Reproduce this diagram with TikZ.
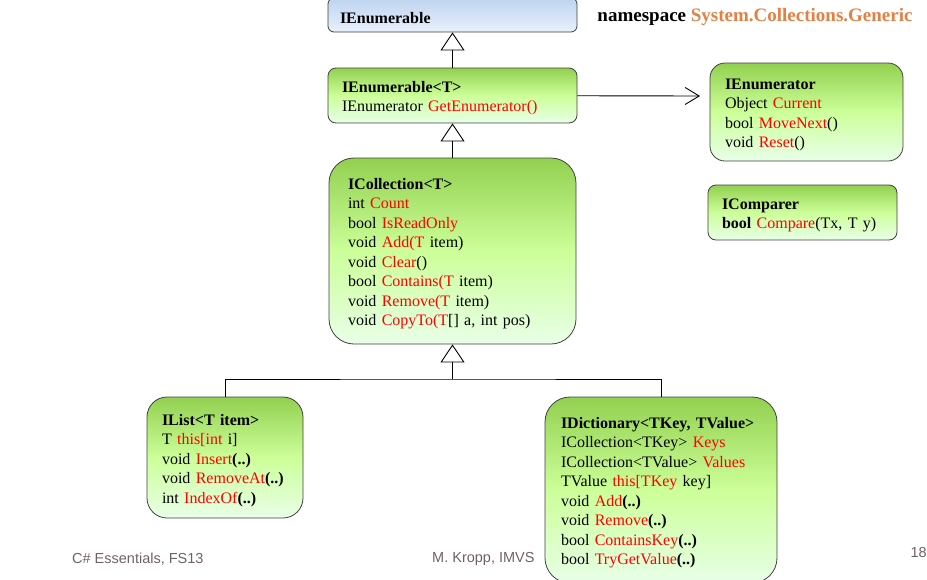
\documentclass[tikz,border=0pt]{standalone}
\usepackage{fontspec}
\setmainfont{Liberation Serif}
\newfontfamily\footfont{Liberation Sans}
\usetikzlibrary{arrows.meta}
\definecolor{gtop}{RGB}{146,208,80}
\definecolor{gmid}{RGB}{204,255,153}
\definecolor{gbot}{RGB}{232,255,232}
\definecolor{btop}{RGB}{190,212,240}
\definecolor{bbot}{RGB}{232,240,252}
\definecolor{nsorange}{RGB}{228,128,68}
\definecolor{footgray}{RGB}{112,98,98}
\newcommand{\rd}[1]{\textcolor{red}{#1}}

\begin{document}
\begin{tikzpicture}[x=1pt, y=-1pt,
    box/.style={draw=black!75, line width=0.8pt, align=left, inner ysep=0pt,
      font=\fontsize{16}{19.5}\selectfont, execute at begin node={\rule{0pt}{16.5pt}}},
    greenbox/.style={box, top color=gtop, bottom color=gbot, middle color=gmid},
    bluebox/.style={box, top color=btop, bottom color=bbot},
    inh/.style={-{Triangle[open, width=24pt, length=18pt]}, line width=0.9pt},
    foot/.style={font=\footfont\fontsize{14.5}{16}\selectfont, text=footgray, inner sep=0pt}]
        \useasboundingbox (0,0) rectangle (927,579);
        % interfaces
        \node [bluebox, rounded corners=6pt, text width=225pt, inner xsep=12pt, minimum height=34pt] (IE) at (452.5, 15) {\textbf{IEnumerable}};
        \node [greenbox, rounded corners=8pt, text width=221pt, inner xsep=14pt, minimum height=55pt] (IET) at (452.5, 95.5) {\textbf{IEnumerable<T>}\\IEnumerator \rd{GetEnumerator()}};
        \node [greenbox, rounded corners=25pt, text width=209pt, inner xsep=19pt, minimum height=186pt] (IC) at (452.5, 251) {\textbf{ICollection<T>}\\int \rd{Count}\\bool \rd{IsReadOnly}\\void \rd{Add(T} item)\\void \rd{Clear}()\\bool \rd{Contains(T} item)\\void \rd{Remove(T} item)\\void \rd{CopyTo(T}[] a, int pos)};
        \node [greenbox, rounded corners=20pt, text width=126pt, inner xsep=15pt, minimum height=121pt] (IL) at (225, 457.5) {\textbf{IList<T item>}\\T \rd{this[int} i]\\void \rd{Insert}\textbf{(..)}\\void \rd{RemoveAt}\textbf{(..)}\\int \rd{IndexOf}\textbf{(..)}};
        \node [greenbox, rounded corners=25pt, text width=200pt, inner xsep=16pt, minimum height=186pt] (ID) at (661, 490) {\textbf{IDictionary<TKey, TValue>}\\ICollection<TKey> \rd{Keys}\\ICollection<TValue> \rd{Values}\\TValue \rd{this[TKey} key]\\void \rd{Add}\textbf{(..)}\\void \rd{Remove}\textbf{(..)}\\bool \rd{ContainsKey}\textbf{(..)}\\bool \rd{TryGetValue}\textbf{(..)}};
        \node [greenbox, rounded corners=15pt, text width=163pt, inner xsep=15pt, minimum height=98pt] (IEn) at (806.5, 112) {\textbf{IEnumerator}\\Object \rd{Current}\\bool \rd{MoveNext}()\\void \rd{Reset}()};
        \node [greenbox, rounded corners=8pt, text width=161pt, inner xsep=14pt, minimum height=55pt] (ICmp) at (802.5, 212.5) {\textbf{IComparer}\\\textbf{bool} \rd{Compare}(Tx, T y)};
        \node [font=\fontsize{19}{21}\selectfont\bfseries, inner sep=0pt] (NS) at (755, 17) {namespace \textcolor{nsorange}{System.Collections.Generic}};
        % footer
        \node [foot, anchor=west] (FL) at (72, 559) {C\# Essentials, FS13};
        \node [foot, anchor=west] (FM) at (432, 559) {M. Kropp, IMVS};
        \node [foot, anchor=east] (FR) at (927, 553) {18};
        % connectors
        \coordinate (J) at (452.5, 379);
        \coordinate (EnTip) at (700, 96);
        \draw [inh] (IET) -- (IE);
        \draw [inh] (IC) -- (IET);
        \draw [inh] (J) -- (IC);
        \draw [line width=0.9pt] (IL) |- (J) -| (ID);
        \draw [-{Straight Barb[length=14pt, width=17pt]}, line width=0.9pt] (IET) -- (EnTip);
\end{tikzpicture}
\end{document}
